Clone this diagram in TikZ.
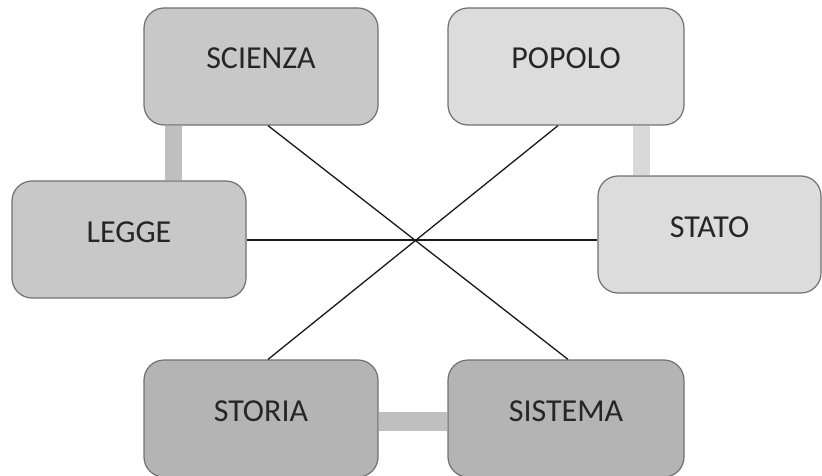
\documentclass[tikz,border=0pt]{standalone}
\usepackage{fontspec}
\setmainfont{Carlito}
\usepackage{tikz}
\usetikzlibrary{calc}
\definecolor{boxline}{HTML}{707070}
\definecolor{darkfill}{HTML}{B4B4B4}
\definecolor{midfill}{HTML}{C8C8C8}
\definecolor{lightfill}{HTML}{DCDCDC}
\tikzset{word/.style={rectangle, rounded corners=20pt, draw=boxline, line width=1.2pt, minimum width=234pt, minimum height=117pt, text height=22pt, text depth=17pt, font=\fontsize{32}{38}\selectfont, text=black!85}}
\tikzset{bar/.style={line width=#1, draw=black!25}}
\tikzset{bar/.default=17pt}
\tikzset{lightbar/.style={line width=17pt, draw=black!15}}
\tikzset{cross/.style={line width=1.3pt, draw=black!90}}

\begin{document}
\begin{tikzpicture}[x=1pt, y=-1pt]
  \useasboundingbox (0,0) rectangle (822,476);
  \node (scienza) at (261,66.5)[word, fill=midfill]{SCIENZA};
  \node (popolo) at (566,66.5)[word, fill=lightfill, minimum width=236pt]{POPOLO};
  \node (legge) at (129,239.5)[word, fill=midfill]{LEGGE};
  \node (stato) at (709.5,234.5)[word, fill=lightfill, minimum width=223pt]{STATO};
  \node (storia) at (261,418.5)[word, fill=darkfill]{STORIA};
  \node (sistema) at (566,418.5)[word, fill=darkfill, minimum width=236pt]{SISTEMA};

  % thick links
  \draw[bar] ([xshift=30.5pt]scienza.south west) -- ([xshift=30.5pt]scienza.south west |- legge.north);
  \draw[lightbar] ([xshift=194.5pt]popolo.south west) -- ([xshift=194.5pt]popolo.south west |- stato.north);
  \draw[bar=19pt] ([yshift=-3pt]storia.east) -- ([yshift=-3pt]sistema.west);

  % thin crossing lines
  \draw[cross] ([xshift=7pt]scienza.south) -- ([xshift=2pt]sistema.north);
  \draw[cross] ([xshift=-8pt]popolo.south) -- ([xshift=7pt]storia.north);
  \draw[cross] ([yshift=-0.5pt]legge.east) -- ([yshift=-0.5pt]legge.east -| stato.west);
\end{tikzpicture}
\end{document}
